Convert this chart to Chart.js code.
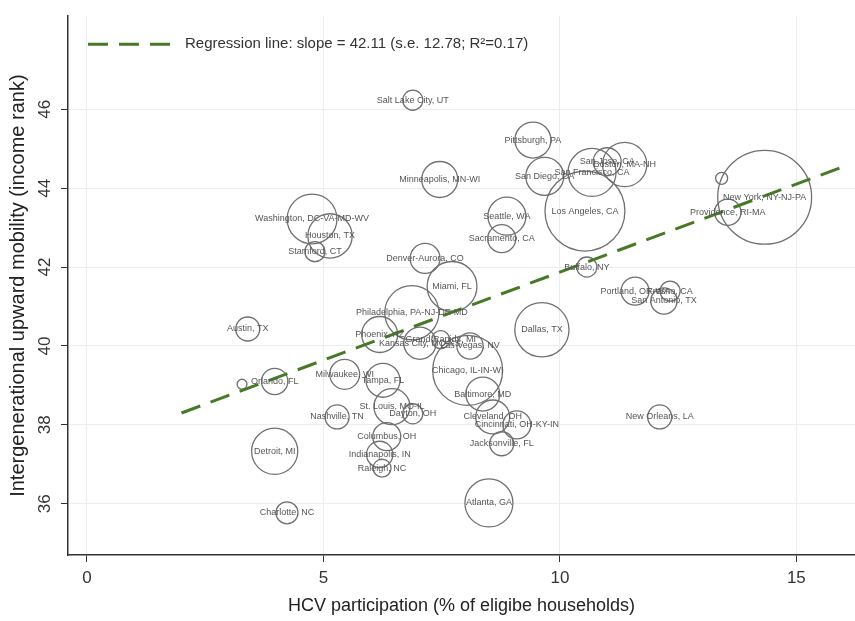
<!DOCTYPE html>
<html>
<head>
<meta charset="utf-8">
<script src="https://cdn.jsdelivr.net/npm/chart.js@4/dist/chart.umd.min.js"></script>
<style>
  html, body { margin: 0; padding: 0; background: #fff; }
  canvas { display: block; }
</style>
</head>
<body>
<canvas id="mobilityChart" width="855" height="621"></canvas>
<script>
// Данные: города (commuting zones), участие в HCV (%), мобильность (ранг), население (млн)
const cities = [
    'Salt Lake City, UT', 'Minneapolis, MN-WI', 'Washington, DC-VA-MD-WV', 'Houston, TX',
    'Stamford, CT', 'Denver-Aurora, CO', 'Miami, FL', 'Philadelphia, PA-NJ-DE-MD',
    'Phoenix, AZ', 'Kansas City, MO-KS', 'Grand Rapids, MI', 'Las Vegas, NV',
    'Dallas, TX', 'Chicago, IL-IN-WI', 'Baltimore, MD', 'Cleveland, OH',
    'Cincinnati, OH-KY-IN', 'Jacksonville, FL', 'New Orleans, LA', 'Milwaukee, WI',
    'Tampa, FL', 'St. Louis, MO-IL', 'Dayton, OH', 'Nashville, TN',
    'Columbus, OH', 'Indianapolis, IN', 'Raleigh, NC', 'Detroit, MI',
    'Orlando, FL', '', 'Austin, TX', 'Charlotte, NC',
    'Atlanta, GA', 'Pittsburgh, PA', 'San Diego, CA', 'San Francisco, CA',
    'San Jose, CA', 'Boston, MA-NH', 'Los Angeles, CA', 'Seattle, WA',
    'Sacramento, CA', 'New York, NY-NJ-PA', 'Providence, RI-MA', '',
    'Buffalo, NY', 'Portland, OR-WA', 'Fresno, CA', 'San Antonio, TX'
];
const hcvShare = [
    6.89, 7.46, 4.76, 5.14,
    4.82, 7.15, 7.72, 6.87,
    6.19, 7.04, 7.48, 8.10,
    9.62, 8.05, 8.37, 8.58,
    9.09, 8.77, 12.11, 5.45,
    6.26, 6.45, 6.89, 5.29,
    6.34, 6.19, 6.24, 3.97,
    3.97, 3.28, 3.40, 4.23,
    8.50, 9.43, 9.68, 10.68,
    11.00, 11.37, 10.53, 8.88,
    8.77, 14.33, 13.55, 13.42,
    10.57, 11.59, 12.33, 12.20
];
const mobilityRank = [
    46.23, 44.22, 43.22, 42.79,
    42.39, 42.22, 41.51, 40.84,
    40.29, 40.07, 40.16, 40.00,
    40.41, 39.38, 38.78, 38.20,
    38.00, 37.52, 38.20, 39.28,
    39.13, 38.46, 38.28, 38.20,
    37.70, 37.25, 36.90, 37.33,
    39.10, 39.03, 40.43, 35.77,
    36.02, 45.22, 44.30, 44.40,
    44.67, 44.60, 43.42, 43.29,
    42.72, 43.77, 43.39, 44.25,
    42.00, 41.39, 41.39, 41.14
];
const population = [
    0.70, 2.25, 4.30, 3.40,
    0.70, 1.55, 4.30, 5.10,
    2.25, 1.80, 0.56, 1.20,
    5.10, 8.50, 2.00, 2.00,
    1.36, 1.00, 1.00, 1.55,
    2.00, 2.25, 0.70, 1.00,
    1.36, 1.20, 0.56, 3.70,
    1.20, 0.17, 1.00, 0.84,
    4.00, 2.25, 2.50, 4.00,
    1.36, 3.40, 11.10, 2.50,
    1.36, 15.30, 1.20, 0.25,
    0.70, 1.36, 0.70, 1.20
];

// Линия регрессии (две конечные точки)
const regressionX = [2, 16];
const regressionY = [38.30, 44.55];
const regressionLabel = 'Regression line: slope = 42.11 (s.e. 12.78; R\u00B2=0.17)';

const xTicks = [0, 5, 10, 15];
const yTicks = [36, 38, 40, 42, 44, 46];

const lineGreen = '#467a27';

// Подписи городов и легенда поверх графика
const labelsPlugin = {
    id: 'cityLabels',
    afterDatasetsDraw(chart) {
        const ctx = chart.ctx;
        const meta = chart.getDatasetMeta(0);
        ctx.save();
        ctx.font = '9px Arial, "Liberation Sans", sans-serif';
        ctx.fillStyle = '#555';
        ctx.textAlign = 'center';
        ctx.textBaseline = 'middle';
        meta.data.forEach((pt, i) => {
            if (cities[i]) ctx.fillText(cities[i], pt.x, pt.y);
        });

        // легенда в левом верхнем углу
        const area = chart.chartArea;
        const ly = area.top + 28;
        ctx.strokeStyle = lineGreen;
        ctx.lineWidth = 3;
        ctx.setLineDash([20, 11]);
        ctx.beginPath();
        ctx.moveTo(area.left + 20, ly);
        ctx.lineTo(area.left + 104, ly);
        ctx.stroke();
        ctx.setLineDash([]);
        ctx.font = '15px Arial, "Liberation Sans", sans-serif';
        ctx.fillStyle = '#333';
        ctx.textAlign = 'left';
        ctx.fillText(regressionLabel, area.left + 117, ly);
        ctx.restore();
    }
};

new Chart(document.getElementById('mobilityChart'), {
    data: {
        datasets: [{
            type: 'bubble',
            data: cities.map((c, i) => ({
                x: hcvShare[i],
                y: mobilityRank[i],
                r: 12 * Math.sqrt(population[i])
            })),
            backgroundColor: 'rgba(0,0,0,0)',
            borderColor: '#707070',
            borderWidth: 1.3,
            order: 2
        }, {
            type: 'line',
            data: regressionX.map((x, i) => ({ x: x, y: regressionY[i] })),
            borderColor: lineGreen,
            borderWidth: 3,
            borderDash: [20, 11],
            pointRadius: 0,
            fill: false,
            order: 1
        }]
    },
    options: {
        responsive: false,
        animation: false,
        devicePixelRatio: 1,
        layout: { autoPadding: false, padding: { top: 10, right: 0, left: 0, bottom: 0 } },
        plugins: {
            legend: { display: false },
            tooltip: { enabled: false }
        },
        scales: {
            x: {
                type: 'linear',
                min: -0.4,
                max: 16.24,
                afterBuildTicks: (scale) => { scale.ticks = xTicks.map(v => ({ value: v })); },
                afterFit: (scale) => { scale.height = 66; },
                grid: { color: '#e9eff1', tickColor: '#333', tickLength: 7, lineWidth: 1 },
                border: { color: '#333', width: 1.5 },
                ticks: {
                    font: { size: 17, family: 'Arial' },
                    color: '#333',
                    padding: 6,
                    maxRotation: 0
                },
                title: {
                    display: true,
                    text: 'HCV participation (% of eligibe households)',
                    font: { size: 18, family: 'Arial' },
                    color: '#222',
                    padding: { top: 2, bottom: 4 }
                }
            },
            y: {
                type: 'linear',
                min: 34.7,
                max: 48.36,
                afterBuildTicks: (scale) => { scale.ticks = yTicks.map(v => ({ value: v })); },
                afterFit: (scale) => { scale.width = 68; },
                grid: { color: '#e9eff1', tickColor: '#333', tickLength: 7, lineWidth: 1 },
                border: { color: '#333', width: 1.5 },
                ticks: {
                    font: { size: 17, family: 'Arial' },
                    color: '#333',
                    padding: 6,
                    crossAlign: 'center',
                    minRotation: 90,
                    maxRotation: 90
                },
                title: {
                    display: true,
                    text: 'Intergenerational upward mobility (income rank)',
                    font: { size: 20, family: 'Arial' },
                    color: '#222',
                    padding: { top: 6, bottom: 0 }
                }
            }
        }
    },
    plugins: [labelsPlugin]
});
</script>
</body>
</html>
